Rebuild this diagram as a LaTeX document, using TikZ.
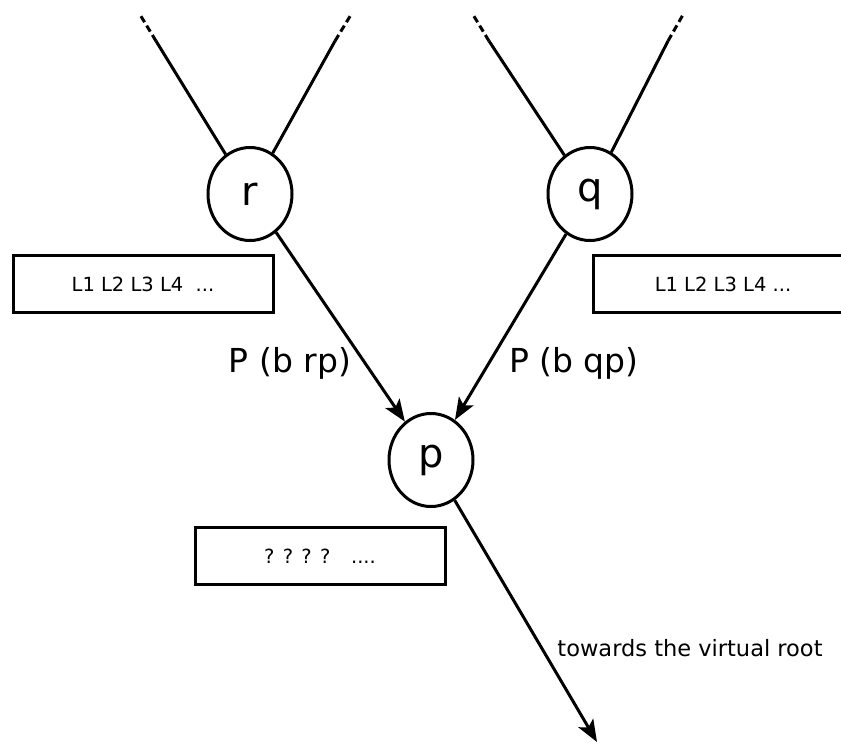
\documentclass[tikz,border=0pt]{standalone}
\usepackage{fontspec}
\setmainfont{DejaVu Sans}
\usetikzlibrary{shapes.geometric,arrows.meta}

\begin{document}
\begin{tikzpicture}[
	x=1pt, y=-1pt,
	vertex/.style={ellipse, draw, line width=3pt, minimum width=84pt, minimum height=93pt, inner sep=0pt, font=\fontsize{40}{44}\selectfont},
	listbox/.style={draw, rectangle, line width=3pt, minimum width=260pt, minimum height=57pt, inner sep=0pt, font=\fontsize{19.5}{22}\selectfont},
	edgelabel/.style={inner sep=0pt, font=\fontsize{33}{36}\selectfont},
	>={Stealth[length=22pt,width=17pt,inset=5pt]}
	]
	\useasboundingbox (0,0) rectangle (841,745);
	\clip (0,0) rectangle (841,745);
	
	%-----------------------
	% Customizable heights
	%-----------------------
	\def\htop{13}     % loose ends of the upper branches
	\def\hcut{41}     % where the branches turn dashed
	\def\hkids{194}   % Row 1: r and q
	\def\hlists{284}  % Row 2: lists under r and q
	\def\hP{363}      % Row 3: edge labels
	\def\hpar{460}    % Row 4: p
	\def\hqm{556}     % Row 5: list under p
	
	%-----------------------
	% Row 1: children
	%-----------------------
	\node[vertex] (r) at (250,\hkids) {r};
	\node[vertex] (q) at (590,\hkids) {q};
	
	% upper branches
	\coordinate (rL) at (156,\hcut);  \coordinate (rLend) at (139,\htop);
	\coordinate (rR) at (335,\hcut);  \coordinate (rRend) at (352,\htop);
	\coordinate (qL) at (489,\hcut);  \coordinate (qLend) at (472,\htop);
	\coordinate (qR) at (668,\hcut);  \coordinate (qRend) at (684,\htop);
	
	%-----------------------
	% Row 2: lists
	%-----------------------
	\node[listbox] (Lr) at (143,\hlists) {L1 L2 L3 L4 \ ...};
	\node[listbox] (Lq) at (723,\hlists) {L1 L2 L3 L4 ...};
	
	%-----------------------
	% Row 4: parent
	%-----------------------
	\node[vertex] (p) at (431,\hpar) {p};
	\coordinate (root) at (597,742);
	
	%-----------------------
	% Row 5: unknown list
	%-----------------------
	\node[listbox, minimum width=250pt] (Lp) at (320,\hqm) {? ? ? ? \ \ ....};
	
	%-----------------------
	% Connections
	%-----------------------
	\tikzset{connect/.style={line width=3pt}}
	\tikzset{loose/.style={line width=3pt, dash pattern=on 7pt off 4pt}}
	
	% branches above r and q
	\draw[connect] (r) -- (rL);
	\draw[connect] (r) -- (rR);
	\draw[connect] (q) -- (qL);
	\draw[connect] (q) -- (qR);
	\draw[loose] (rL) -- (rLend);
	\draw[loose] (rR) -- (rRend);
	\draw[loose] (qL) -- (qLend);
	\draw[loose] (qR) -- (qRend);
	
	% children -> parent
	\draw[connect,->] (r) -- (p);
	\draw[connect,->] (q) -- (p);
	\node[edgelabel] (Prp) at (290,\hP) {P (b rp)};
	\node[edgelabel] (Pqp) at (574,\hP) {P (b qp)};
	
	% parent -> root
	\draw[connect,->] (p) -- (root);
	\node[inner sep=0pt, font=\fontsize{22.5}{26}\selectfont] (toroot) at (690,648) {towards the virtual root};
	
\end{tikzpicture}
\end{document}
